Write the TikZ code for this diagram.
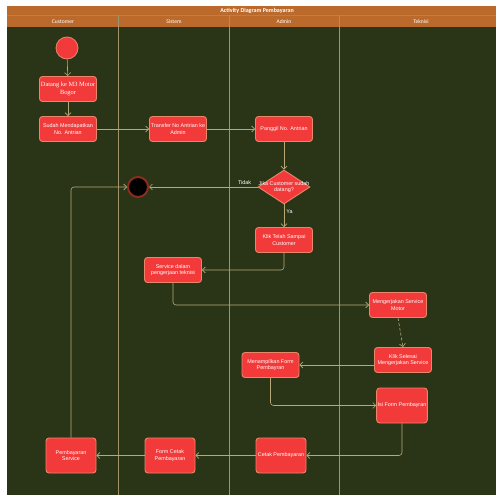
\documentclass[tikz,border=0pt]{standalone}
\usepackage{fontspec}
\setmainfont{Liberation Sans}
\newfontfamily\serifface{Liberation Serif}
\newfontfamily\headface{Carlito}
\usetikzlibrary{arrows.meta,shapes.geometric}
\definecolor{bgdark}{HTML}{2A3518}
\definecolor{headorange}{HTML}{BC6A2C}
\definecolor{laneline}{HTML}{A0936A}
\definecolor{actfill}{HTML}{F23A3A}
\definecolor{actedge}{HTML}{E8866A}
\definecolor{flowline}{HTML}{B8AA78}
\definecolor{endring}{HTML}{8B2E1E}

\begin{document}
\begin{tikzpicture}[x=1pt,y=-1pt,
  act/.style={draw=actedge, line width=0.9pt, fill=actfill, rounded corners=3pt,
    minimum width=57pt, minimum height=25pt, align=center, text=white, inner sep=1pt,
    font=\fontsize{5.4}{6.7}\selectfont},
  acttall/.style={act, minimum width=50pt, minimum height=35pt},
  decision/.style={diamond, draw=actedge, line width=0.9pt, fill=actfill,
    minimum width=52pt, minimum height=34pt, inner sep=0pt},
  startnode/.style={circle, draw=actedge, line width=0.8pt, fill=actfill, minimum size=22pt, inner sep=0pt},
  endnode/.style={circle, draw=endring, line width=2pt, fill=black, minimum size=20pt, inner sep=0pt},
  flow/.style={draw=flowline, line width=0.6pt, -{Straight Barb[length=3pt,width=6pt]}, rounded corners=3pt},
  guard/.style={text=white, font=\fontsize{5.4}{6.5}\selectfont, inner sep=1pt, align=center},
  lanehead/.style={text=white, font=\headface\fontsize{5.6}{6.5}\selectfont},
]
\clip (0,0) rectangle (496,495);
\fill[white] (0,0) rectangle (496,495);

% swimlane frame
\fill[bgdark] (7,27) rectangle (510,500);
\fill[headorange] (7,6) rectangle (510,27);
\draw[laneline!70!headorange, line width=0.5pt] (7,15.5) -- (510,15.5);
\node[text=white, font=\headface\bfseries\fontsize{6}{7}\selectfont] (title) at (257,10.8) {Activity Diagram Pembayaran};
\foreach \lx in {118,229,339} \draw[laneline, line width=0.7pt] (\lx,15.5) -- (\lx,500);
\node[lanehead] (hcust) at (63,21.3) {Customer};
\node[lanehead] (hsis) at (174,21.3) {Sistem};
\node[lanehead] (hadm) at (284,21.3) {Admin};
\node[lanehead] (htek) at (421,21.3) {Teknisi};

% activities
\node[startnode] (start) at (67,48) {};
\node[act, font=\serifface\fontsize{6.4}{7.8}\selectfont] (datang) at (68,89) {Datang ke M3 Motor\\Bogor};
\node[act] (sudah) at (68,129) {Sudah Mendapatkan\\No. Antrian};
\node[act] (transfer) at (178,129) {Transfer No Antrian ke\\Admin};
\node[act] (panggil) at (284,129) {Panggil No. Antrian};
\node[decision, label={[guard]center:{Jika Customer sudah\\datang?}}] (cek) at (284,187) {};
\node[endnode] (selesai) at (138,187) {};
\node[act] (klik1) at (284,240) {Klik Telah Sampai\\Customer};
\node[act] (service) at (173,270) {Service dalam\\pengerjaan teknisi};
\node[act] (kerja) at (398,305) {Mengerjakan Service\\Motor};
\node[act] (klik2) at (403,360) {Klik Selesai\\Mengerjakan Service};
\node[act] (tampil) at (270.5,365) {Menampilkan Form\\Pembayran};
\node[acttall] (isi) at (402,405.5) {Isi Form Pembayran};
\node[acttall] (cetak) at (281,455.5) {Cetak Pembayaran};
\node[acttall] (formcetak) at (170,455.5) {Form Cetak\\Pembayaran};
\node[acttall] (bayar) at (71,455.5) {Pembayaran\\Service};

% control flow
\draw[flow] (start) -- (datang);
\draw[flow] (datang) -- (sudah);
\draw[flow] (sudah) -- (transfer);
\draw[flow] (transfer) -- (panggil);
\draw[flow] (panggil) -- (cek);
\draw[flow] (cek) -- node[guard, pos=0.3, right=1pt] (ya) {Ya} (klik1);
\draw[flow] (cek.west) -- node[guard, pos=0.12, above=1pt] (tidak) {Tidak} (selesai);
\draw[flow] (klik1.south) |- (service.east);
\draw[flow] (service.south) |- (kerja.west);
\draw[flow, dash pattern=on 3pt off 2pt] (kerja.south) -- (klik2.north);
\draw[flow] (klik2.west |- tampil.east) -- (tampil.east);
\draw[flow] (tampil.south) |- (isi.west);
\draw[flow] (isi.south) |- (cetak.east);
\draw[flow] (cetak) -- (formcetak);
\draw[flow] (formcetak) -- (bayar);
\draw[flow] (bayar.north) |- (selesai.west);
\end{tikzpicture}
\end{document}
